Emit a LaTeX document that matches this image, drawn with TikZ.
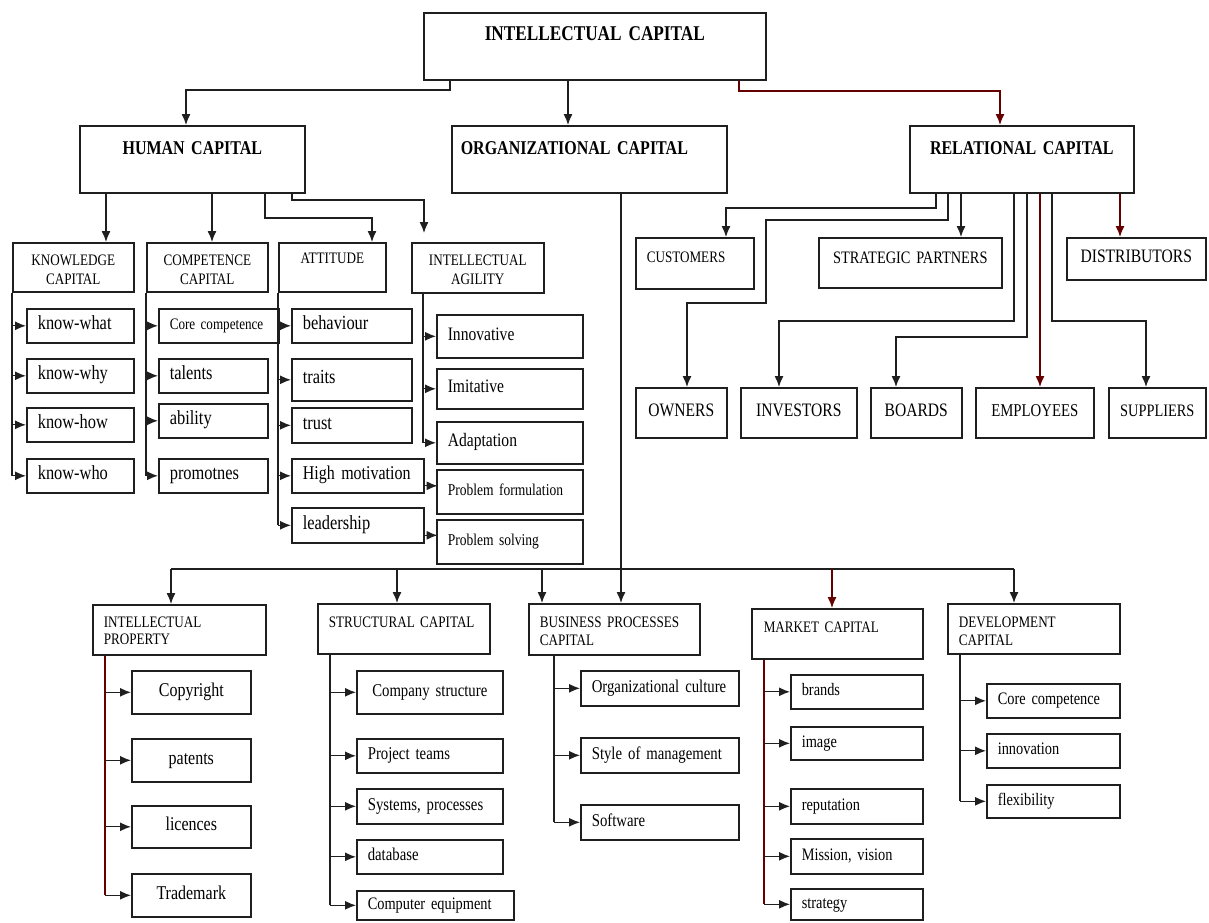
\documentclass[tikz,border=0pt]{standalone}
\usepackage{fontspec}
\setmainfont{Liberation Serif}[FakeStretch=0.82]
\usetikzlibrary{arrows.meta}
\newcommand\fs[2]{\fontsize{#1}{#2}\selectfont\spaceskip=0.19em\relax}
\tikzset{
 bx/.style={draw=black!88, line width=1.6pt, anchor=north west, inner ysep=0pt},
 ln/.style={draw=black!88, line width=1.3pt},
 rl/.style={draw=red!40!black, line width=1.3pt},
 ar/.style={ln, -{Latex[length=11pt,width=9pt]}},
 arr/.style={rl, -{Latex[length=11pt,width=9pt]}},
}
% box with text hanging from the top: [opts]{name}{x1}{y1}{x2}{y2}{xpad}{baseline from top}{text}
\newcommand{\topbox}[9][]{%
  \pgfmathsetmacro\bw{#5-#3-2*#7}%
  \pgfmathsetmacro\bd{#6-#4-#8}%
  \node[bx, inner xsep=#7pt, text width=\bw pt, text height=#8pt, text depth=\bd pt, align=left, #1] (#2) at (#3,#4) {#9};}
% box with one line of text, vertically centred: [opts]{name}{x1}{y1}{x2}{y2}{text}
\newcommand{\itembox}[6][]{%
  \pgfmathsetmacro\bw{#5-#3-22}%
  \pgfmathsetmacro\bh{#6-#4}%
  \node[bx, inner xsep=11pt, text width=\bw pt, minimum height=\bh pt, text height=12pt, text depth=4pt, align=left, #1] (#2) at (#3,#4)}
\begin{document}
\begin{tikzpicture}[x=1pt,y=-1pt]
\useasboundingbox (0,0) rectangle (1209,922);
\fill[white] (0,0) rectangle (1209,922);

% ---- level 0/1
\topbox[font=\bfseries\fs{21}{24}, align=center]{ic}{423}{12}{765}{79}{4}{28}{INTELLECTUAL CAPITAL}
\topbox[font=\bfseries\fs{19.5}{22}, align=center]{hc}{79}{125}{304}{192}{4}{29}{HUMAN CAPITAL}
\topbox[font=\bfseries\fs{19.5}{22}]{oc}{451}{125}{726}{192}{9}{29}{ORGANIZATIONAL CAPITAL}
\topbox[font=\bfseries\fs{19.5}{22}, align=center]{rc}{909}{125}{1133}{192}{4}{29}{RELATIONAL CAPITAL}

% ---- human capital headers
\topbox[font=\fs{16}{19}, align=center]{kc}{12}{242}{133}{291}{3}{23}{KNOWLEDGE\\CAPITAL}
\topbox[font=\fs{16}{19}, align=center]{cc}{146}{242}{267}{291}{3}{23}{COMPETENCE\\CAPITAL}
\topbox[font=\fs{16}{19}, align=center]{at}{278}{242}{385}{291}{3}{21}{ATTITUDE}
\topbox[font=\fs{16}{19}, align=center]{ag}{411}{242}{543}{292}{3}{23}{INTELLECTUAL\\AGILITY}

% knowledge
\itembox[font=\fs{20}{22}]{kw1}{26}{308}{133}{342}{know-what};
\itembox[font=\fs{20}{22}]{kw2}{26}{358}{133}{392}{know-why};
\itembox[font=\fs{20}{22}]{kw3}{26}{407}{133}{441}{know-how};
\itembox[font=\fs{20}{22}]{kw4}{26}{458}{133}{492}{know-who};
% competence
\itembox[font=\fs{16}{18}]{cp1}{158}{308}{278}{342}{Core competence};
\itembox[font=\fs{20}{22}]{cp2}{158}{358}{267}{392}{talents};
\itembox[font=\fs{20}{22}]{cp3}{158}{403}{267}{437}{ability};
\itembox[font=\fs{20}{22}]{cp4}{158}{458}{267}{492}{promotnes};
% attitude
\itembox[font=\fs{20}{22}]{at1}{291}{308}{411}{342}{behaviour};
\itembox[font=\fs{20}{22}]{at2}{291}{358}{411}{400}{traits};
\itembox[font=\fs{20}{22}]{at3}{291}{407}{411}{442}{trust};
\itembox[font=\fs{19.5}{22}]{at4}{291}{458}{423}{492}{High motivation};
\itembox[font=\fs{20}{22}]{at5}{291}{507}{423}{542}{leadership};
% agility
\itembox[font=\fs{19}{22}]{ag1}{436}{314}{582}{357}{Innovative};
\itembox[font=\fs{19}{22}]{ag2}{436}{368}{582}{408}{Imitative};
\itembox[font=\fs{19}{22}]{ag3}{436}{421}{582}{463}{Adaptation};
\itembox[font=\fs{16.5}{19}]{ag4}{436}{469}{582}{513}{Problem formulation};
\itembox[font=\fs{16.5}{19}]{ag5}{436}{519}{582}{563}{Problem solving};

% ---- relational capital children
\topbox[font=\fs{16}{18}]{cu}{635}{237}{753}{288}{11}{25}{CUSTOMERS}
\topbox[font=\fs{17.5}{20}, align=center]{sp}{818}{237}{1001}{287}{4}{26}{STRATEGIC PARTNERS}
\itembox[font=\fs{19}{21}, align=center]{di}{1066}{237}{1205}{279}{DISTRIBUTORS};
\itembox[font=\fs{19}{21}, align=center]{ow}{635}{387}{726}{437}{OWNERS};
\itembox[font=\fs{19}{21}, align=center]{iv}{740}{387}{856}{437}{INVESTORS};
\itembox[font=\fs{19}{21}, align=center]{bo}{870}{387}{961}{437}{BOARDS};
\itembox[font=\fs{18}{21}, align=center]{em}{975}{387}{1093}{437}{EMPLOYEES};
\itembox[font=\fs{17.5}{21}, align=center]{su}{1108}{387}{1205}{437}{SUPPLIERS};

% ---- organizational capital children
\topbox[font=\fs{16}{17}]{ip}{92}{604}{265}{654}{11}{23}{INTELLECTUAL\\PROPERTY}
\topbox[font=\fs{16}{17}]{sc}{317}{603}{489}{653}{11}{24}{STRUCTURAL CAPITAL}
\topbox[font=\fs{16}{18}]{bp}{528}{603}{699}{654}{11}{24}{BUSINESS PROCESSES\\CAPITAL}
\topbox[font=\fs{16}{17}]{mk}{751}{608}{922}{658}{12}{24}{MARKET CAPITAL}
\topbox[font=\fs{16}{17.5}]{dv}{947}{603}{1119}{653}{11}{24}{DEVELOPMENT\\CAPITAL}

\itembox[font=\fs{19.5}{22}, align=center]{ip1}{131}{670}{250}{713}{Copyright};
\itembox[font=\fs{19.5}{22}, align=center]{ip2}{131}{738}{250}{781}{patents};
\itembox[font=\fs{19.5}{22}, align=center]{ip3}{131}{805}{250}{847}{licences};
\itembox[font=\fs{19.5}{22}, align=center]{ip4}{131}{873}{250}{916}{Trademark};

\itembox[font=\fs{18}{21}, align=center]{sc1}{356}{670}{502}{713}{Company structure};
\itembox[font=\fs{18}{21}]{sc2}{356}{738}{502}{772}{Project teams};
\itembox[font=\fs{18}{21}]{sc3}{356}{788}{502}{823}{Systems, processes};
\itembox[font=\fs{18}{21}]{sc4}{356}{839}{502}{873}{database};
\itembox[font=\fs{17.5}{21}]{sc5}{356}{890}{513}{919}{Computer equipment};

\itembox[font=\fs{18}{21}]{bp1}{580}{670}{738}{705}{Organizational culture};
\itembox[font=\fs{18}{21}]{bp2}{580}{737}{738}{772}{Style of management};
\itembox[font=\fs{18}{21}]{bp3}{580}{804}{738}{839}{Software};

\itembox[font=\fs{17.5}{21}]{mk1}{790}{674}{922}{708}{brands};
\itembox[font=\fs{17.5}{21}]{mk2}{790}{726}{922}{759}{image};
\itembox[font=\fs{17.5}{21}]{mk3}{790}{788}{922}{823}{reputation};
\itembox[font=\fs{17.5}{21}]{mk4}{790}{838}{922}{873}{Mission, vision};
\itembox[font=\fs{17.5}{21}]{mk5}{790}{888}{922}{919}{strategy};

\itembox[font=\fs{17.5}{21}]{dv1}{986}{683}{1119}{717}{Core competence};
\itembox[font=\fs{17.5}{21}]{dv2}{986}{733}{1119}{767}{innovation};
\itembox[font=\fs{17.5}{21}]{dv3}{986}{784}{1119}{817}{flexibility};

% ================= connectors
% top level
\draw[ar] (ic.south -| 450,0) -- (450,90) -| (hc.north -| 186,0);
\draw[ar] (ic.south -| 568,0) -- (oc.north -| 568,0);
\draw[arr] (ic.south -| 739,0) -- (739,91) -| (rc.north -| 1000,0);

% human capital
\draw[ar] (hc.south -| 106,0) -- (kc.north -| 106,0);
\draw[ar] (hc.south -| 212,0) -- (cc.north -| 212,0);
\draw[ar] (hc.south -| 265,0) -- (265,218) -| (at.north -| 372,0);
\draw[ar, shorten >=9pt] (hc.south -| 292,0) -- (292,200) -| (ag.north -| 424,0);

\draw[ln] (kc.south west) -- (kw4.west -| kc.west);
\foreach \n in {kw1,kw2,kw3,kw4} \draw[ar] (\n.west -| kc.west) -- (\n.west);
\draw[ln] (cc.south west) -- (cp4.west -| cc.west);
\foreach \n in {cp1,cp2,cp3,cp4} \draw[ar] (\n.west -| cc.west) -- (\n.west);
\draw[ln] (at.south west) -- (at5.west -| at.west);
\foreach \n in {at1,at2,at3,at4,at5} \draw[ar] (\n.west -| at.west) -- (\n.west);
\draw[ln] (ag.south -| 423,0) -- (ag3.west -| 423,0);
\foreach \n in {ag1,ag2,ag3} \draw[ar] (\n.west -| 423,0) -- (\n.west);
\draw[ar] ([yshift=-10pt]at4.east) -- ++(13,0);
\draw[ar] ([yshift=-10pt]at5.east) -- ++(13,0);

% relational capital
\draw[ar] (rc.south -| 936,0) -- (936,208) -| (cu.north -| 726,0);
\draw[ar] (rc.south -| 948,0) -- (948,220) -- (766,220) -- (766,303) -| (ow.north -| 687,0);
\draw[ar] (rc.south -| 961,0) -- (sp.north -| 961,0);
\draw[ar] (rc.south -| 1014,0) -- (1014,321) -| (iv.north -| 779,0);
\draw[ar] (rc.south -| 1027,0) -- (1027,337) -| (bo.north -| 896,0);
\draw[arr] (rc.south -| 1040,0) -- (em.north -| 1040,0);
\draw[ar] (rc.south -| 1052,0) -- (1052,321) -| (su.north -| 1146,0);
\draw[arr] (rc.south -| 1120,0) -- (di.north -| 1120,0);

% organizational capital
\coordinate (busL) at (171,569);
\coordinate (busR) at (1014,569);
\draw[ln] (busL) -- (busR);
\draw[ar] (oc.south -| 621,0) -- (bp.north -| 621,0);
\draw[ar] (busL) -- (ip.north -| busL);
\draw[ar] (397,569) -- (sc.north -| 397,0);
\draw[ar] (542,569) -- (bp.north -| 542,0);
\draw[arr] (832,569) -- (mk.north -| 832,0);
\draw[ar] (busR) -- (dv.north -| busR);

\draw[rl] (ip.south -| 105,0) -- (ip4.west -| 105,0);
\foreach \n in {ip1,ip2,ip3,ip4} \draw[ar] (\n.west -| 105,0) -- (\n.west);
\draw[ln] (sc.south -| 330,0) -- (sc5.west -| 330,0);
\foreach \n in {sc1,sc2,sc3,sc4,sc5} \draw[ar] (\n.west -| 330,0) -- (\n.west);
\draw[ln] (bp.south -| 554,0) -- (bp3.west -| 554,0);
\foreach \n in {bp1,bp2,bp3} \draw[ar] (\n.west -| 554,0) -- (\n.west);
\draw[rl] (mk.south -| 764,0) -- (mk5.west -| 764,0);
\foreach \n in {mk1,mk2,mk3,mk4,mk5} \draw[ar] (\n.west -| 764,0) -- (\n.west);
\draw[ln] (dv.south -| 960,0) -- (dv3.west -| 960,0);
\foreach \n in {dv1,dv2,dv3} \draw[ar] (\n.west -| 960,0) -- (\n.west);
\end{tikzpicture}
\end{document}
